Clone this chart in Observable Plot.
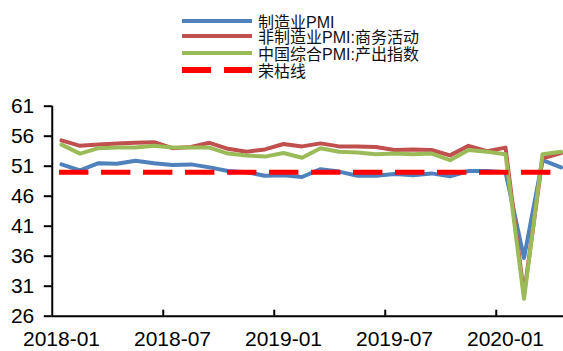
<!DOCTYPE html>
<html>
<head>
<meta charset="utf-8">
<script src="https://cdn.jsdelivr.net/npm/d3@7"></script>
<script src="https://cdn.jsdelivr.net/npm/@observablehq/plot@0.6"></script>
<style>
  html, body { margin: 0; padding: 0; background: #fff; overflow: hidden; }
  body { width: 563px; height: 351px; font-family: "Liberation Sans", "Noto Sans CJK SC", sans-serif; }
  #legend { position: relative; height: 80px; }
  .row { position: absolute; left: 182px; height: 16px; display: flex; align-items: center; font-size: 16px; color: #111; white-space: nowrap; }
  .row svg { margin-right: 6px; }
</style>
</head>
<body>
<div id="legend"></div>
<div id="chart"></div>
<script>
const months = ["2018-01","2018-02","2018-03","2018-04","2018-05","2018-06","2018-07","2018-08","2018-09","2018-10","2018-11","2018-12",
  "2019-01","2019-02","2019-03","2019-04","2019-05","2019-06","2019-07","2019-08","2019-09","2019-10","2019-11","2019-12",
  "2020-01","2020-02","2020-03","2020-04"];
const manufacturing = [51.3,50.3,51.5,51.4,51.9,51.5,51.2,51.3,50.8,50.2,50.0,49.4,
  49.5,49.2,50.5,50.1,49.4,49.4,49.7,49.5,49.8,49.3,50.2,50.2,
  50.0,35.7,52.0,50.8];
const nonManufacturing = [55.3,54.4,54.6,54.8,54.9,55.0,54.0,54.2,54.9,53.9,53.4,53.8,
  54.7,54.3,54.8,54.3,54.3,54.2,53.7,53.8,53.7,52.8,54.4,53.5,
  54.1,29.6,52.3,53.2];
const composite = [54.6,53.1,54.0,54.1,54.1,54.4,54.1,54.1,54.1,53.1,52.8,52.6,
  53.2,52.4,54.0,53.4,53.3,53.0,53.1,53.0,53.1,52.0,53.7,53.4,
  53.0,28.9,53.0,53.4];
const boomBust = 50;
const xTickLabels = ["2018-01","2018-07","2019-01","2019-07","2020-01"];
const yTicks = [26,31,36,41,46,51,56,61];
const seriesNames = ["制造业PMI","非制造业PMI:商务活动","中国综合PMI:产出指数","荣枯线"];
const colors = ["#4F81BD","#C0504D","#9BBB59","#FF0000"];

// legend
const legend = document.getElementById("legend");
const rowTops = [12.7, 28.0, 44.7, 62.0];
seriesNames.forEach((name, k) => {
  const row = document.createElement("div");
  row.className = "row";
  row.style.top = rowTops[k] + "px";
  const dashed = k === 3;
  row.innerHTML = `<svg width="70" height="16"><line x1="0" x2="70" y1="8" y2="8" stroke="${colors[k]}" stroke-width="${dashed ? 6 : 4}" ${dashed ? 'stroke-dasharray="29,13"' : 'stroke-linecap="round"'} /></svg><span>${name}</span>`;
  legend.appendChild(row);
});

const data = months.map((m, i) => ({i, m, manu: manufacturing[i], non: nonManufacturing[i], comp: composite[i], boom: boomBust}));
const labelIdx = xTickLabels.map(l => months.indexOf(l));
const boundaryTicks = labelIdx.slice(1).map(i => i - 0.5);
const yMin = yTicks[0], yMax = yTicks[yTicks.length - 1];
const xMin = -0.5, xMax = 27.135;

const chart = Plot.plot({
  width: 563,
  height: 271,
  marginLeft: 51.75,
  marginRight: 0,
  marginTop: 25.7,
  marginBottom: 35.3,
  style: {fontFamily: "Liberation Sans", fontSize: "21px", color: "#000", background: "#fff"},
  x: {domain: [xMin, xMax], axis: null},
  y: {domain: [yMin, yMax], axis: null},
  marks: [
    Plot.axisY(yTicks, {tickSize: 8, tickPadding: 10, strokeWidth: 2, fontSize: 21, label: null}),
    Plot.axisX(labelIdx, {tickSize: 0, tickPadding: 15, fontSize: 21, tickFormat: i => months[i], label: null}),
    Plot.ruleY([yMin], {stroke: "#000", strokeWidth: 2}),
    Plot.ruleX([xMin], {y1: yMin, y2: yMax, stroke: "#000", strokeWidth: 2}),
    Plot.ruleX(boundaryTicks, {y1: yMin, y2: yMin + 1, stroke: "#000", strokeWidth: 2}),
    Plot.line(data, {x: "i", y: "manu", stroke: colors[0], strokeWidth: 4, strokeLinejoin: "round", strokeLinecap: "round"}),
    Plot.line(data, {x: "i", y: "non", stroke: colors[1], strokeWidth: 4, strokeLinejoin: "round", strokeLinecap: "round"}),
    Plot.line(data, {x: "i", y: "comp", stroke: colors[2], strokeWidth: 4, strokeLinejoin: "round", strokeLinecap: "round"}),
    Plot.line(data, {x: "i", y: "boom", stroke: colors[3], strokeWidth: 5, strokeDasharray: "24.4,17.6", strokeLinecap: "square"})
  ]
});
document.getElementById("chart").appendChild(chart);
</script>
</body>
</html>
